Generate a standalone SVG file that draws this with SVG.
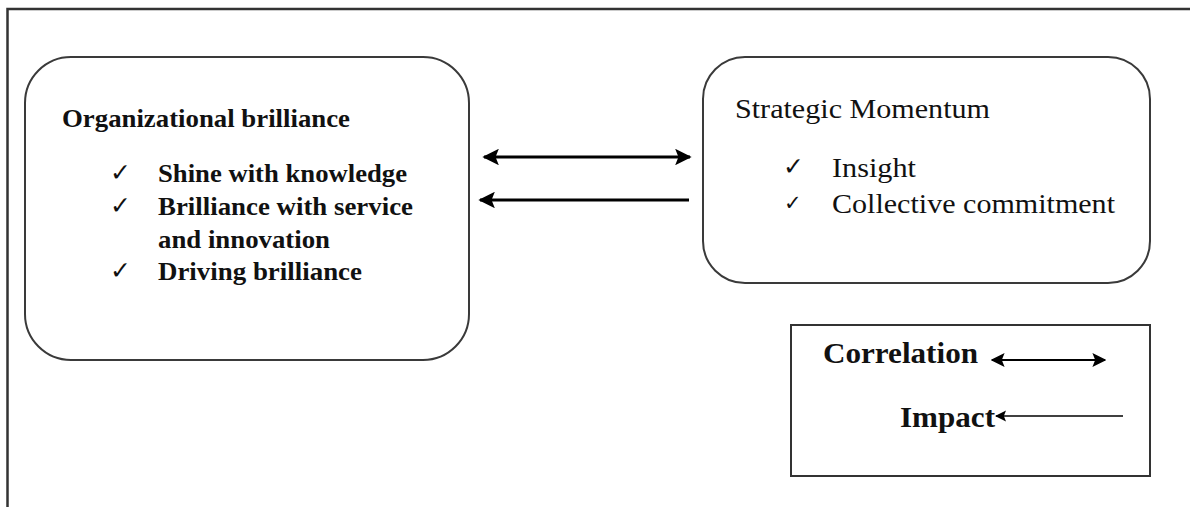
<svg xmlns="http://www.w3.org/2000/svg" width="1190" height="507" viewBox="0 0 1190 507">
<style>
.box{fill:#fff;stroke:#3a3a3a;stroke-width:2}
.b{font-family:"Liberation Serif",serif;font-weight:bold;fill:#111}
.r{font-family:"Liberation Serif",serif;fill:#111}
.ck{font-family:"DejaVu Sans",sans-serif;fill:#111}
.ln{stroke:#000;fill:none}
</style>
<defs>
<marker id="ah" viewBox="0 0 10 10" refX="9" refY="5" markerWidth="5.5" markerHeight="5.5" markerUnits="strokeWidth" orient="auto-start-reverse">
<path d="M0,0 L10,5 L0,10 L2,5 Z" fill="#000"/>
</marker>
<marker id="ahs" viewBox="0 0 10 10" refX="9" refY="5" markerWidth="7" markerHeight="7" markerUnits="strokeWidth" orient="auto-start-reverse">
<path d="M0,0 L10,5 L0,10 L2,5 Z" fill="#000"/>
</marker>
</defs>
<rect width="1190" height="507" fill="#fff"/>
<g id="frame">
<path d="M7.5,507 V9 H1190" fill="none" stroke="#333" stroke-width="2.5"/>
</g>
<g id="org-brilliance">
<rect class="box" x="25" y="57" width="444" height="303" rx="46"/>
<text class="b" x="62" y="127" font-size="26" textLength="288" lengthAdjust="spacingAndGlyphs">Organizational brilliance</text>
<text class="ck" x="110" y="181" font-size="25">✓</text>
<text class="b" x="158" y="182" font-size="26" textLength="249" lengthAdjust="spacingAndGlyphs">Shine with knowledge</text>
<text class="ck" x="110" y="214" font-size="25">✓</text>
<text class="b" x="158" y="215" font-size="26" textLength="255" lengthAdjust="spacingAndGlyphs">Brilliance with service</text>
<text class="b" x="158" y="248" font-size="26" textLength="172" lengthAdjust="spacingAndGlyphs">and innovation</text>
<text class="ck" x="110" y="279" font-size="25">✓</text>
<text class="b" x="158" y="280" font-size="26" textLength="204" lengthAdjust="spacingAndGlyphs">Driving brilliance</text>
</g>
<g id="strategic-momentum">
<rect class="box" x="703" y="57" width="447" height="226" rx="42"/>
<text class="r" x="735" y="118" font-size="28" textLength="255" lengthAdjust="spacingAndGlyphs">Strategic Momentum</text>
<text class="ck" x="783" y="175" font-size="25">✓</text>
<text class="r" x="832" y="177" font-size="28" textLength="84" lengthAdjust="spacingAndGlyphs">Insight</text>
<text class="ck" x="784" y="210" font-size="21">✓</text>
<text class="r" x="832" y="213" font-size="28" textLength="283" lengthAdjust="spacingAndGlyphs">Collective commitment</text>
</g>
<g id="connectors">
<line class="ln" x1="484" y1="157" x2="690" y2="157" stroke-width="3" marker-start="url(#ah)" marker-end="url(#ah)"/>
<line class="ln" x1="689" y1="200" x2="480" y2="200" stroke-width="3" marker-end="url(#ah)"/>
</g>
<g id="legend">
<rect x="791" y="325" width="359" height="151" fill="#fff" stroke="#333" stroke-width="2"/>
<text class="b" x="823" y="363" font-size="29" textLength="155" lengthAdjust="spacingAndGlyphs">Correlation</text>
<line class="ln" x1="992" y1="360" x2="1105" y2="360" stroke-width="2" marker-start="url(#ahs)" marker-end="url(#ahs)"/>
<text class="b" x="900" y="427" font-size="29" textLength="95" lengthAdjust="spacingAndGlyphs">Impact</text>
<line class="ln" x1="1123" y1="416" x2="996" y2="416" stroke-width="1.6" marker-end="url(#ahs)"/>
</g>
</svg>
